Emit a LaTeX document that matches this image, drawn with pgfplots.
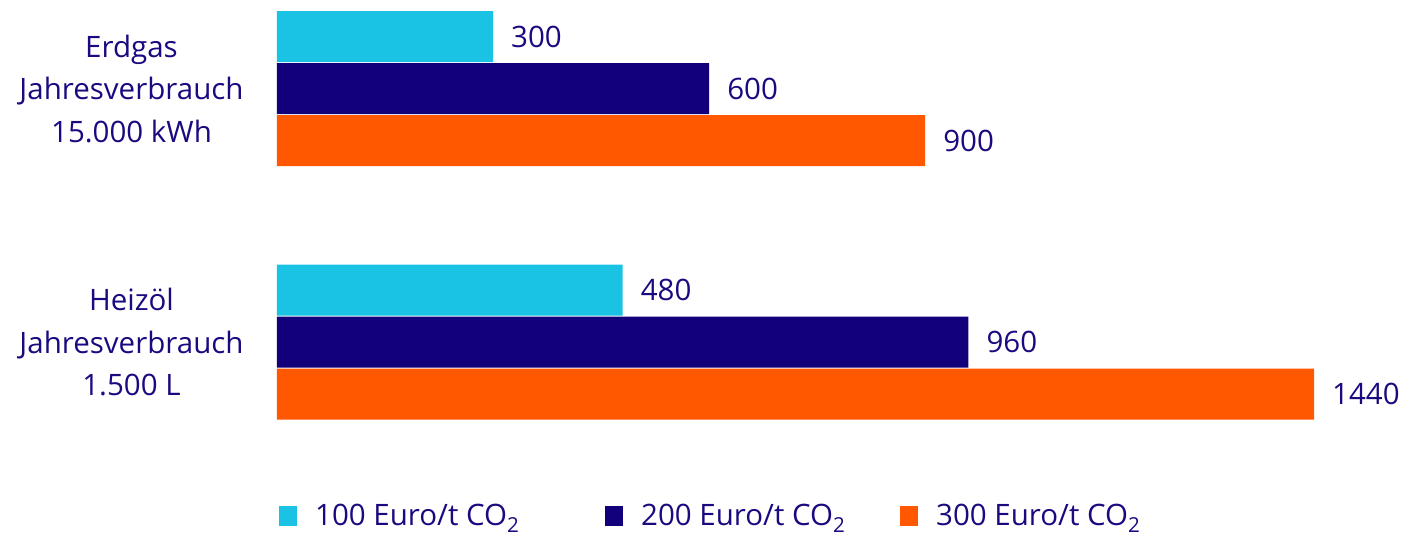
\documentclass[border=0pt]{standalone}
\usepackage{fontspec}
\setmainfont{Open Sans}
\usepackage{pgfplots}
\pgfplotsset{compat=1.18}
\definecolor{cCyan}{HTML}{1AC2E3}
\definecolor{cNavy}{HTML}{12007A}
\definecolor{cOrange}{HTML}{FF5800}
\definecolor{cText}{HTML}{1A0A80}
\newcommand{\lblfont}{\fontsize{29.5}{38.5}\selectfont}

\begin{document}
\begin{tikzpicture}
\begin{axis}[
  at={(277pt,69pt)}, anchor=south west,
  scale only axis, width=1037pt, height=468.975pt,
  xbar, bar width=51pt,
  xmin=0, xmax=1440, ymin=-0.5, ymax=1.35,
  axis line style={draw=none}, tick style={draw=none},
  xtick=\empty,
  ytick={0,1},
  yticklabels={{Heizöl\\[4pt]Jahresverbrauch\\[4pt]1.500 L},{Erdgas\\[4pt]Jahresverbrauch\\[4pt]15.000 kWh}},
  yticklabel style={align=center, font=\lblfont, text=cText, inner sep=0pt},
  y tick label style={xshift=-29pt},
  clip=false,
  nodes near coords={\pgfmathprintnumber[assume math mode=true,1000 sep={}]{\pgfplotspointmeta}},
  every node near coord/.append style={anchor=west, inner sep=0pt, xshift=18pt,
    font=\lblfont, text=cText},
  legend columns=3,
  legend image code/.code={\fill[#1,draw=none] (0pt,-10pt) rectangle (18pt,10pt);
    \path (36pt,0pt);},
  legend style={at={(0.0019,-0.1)}, anchor=west, draw=none, fill=none,
    inner sep=0pt, nodes={inner sep=0pt}, font=\lblfont, text=cText},
  legend cell align=left,
]
\addplot[fill=cCyan, draw=none, bar shift=52pt] coordinates {(300,1) (480,0)};
\addlegendentry{\makebox[290pt][l]{100 Euro/t CO\textsubscript{2}}}
\addplot[fill=cNavy, draw=none, bar shift=0pt] coordinates {(600,1) (960,0)};
\addlegendentry{\makebox[259pt][l]{200 Euro/t CO\textsubscript{2}}}
\addplot[fill=cOrange, draw=none, bar shift=-52pt] coordinates {(900,1) (1440,0)};
\addlegendentry{300 Euro/t CO\textsubscript{2}}
\end{axis}
\pgfresetboundingbox
\useasboundingbox (0,0) rectangle (1427pt,538pt);
\end{tikzpicture}
\end{document}
